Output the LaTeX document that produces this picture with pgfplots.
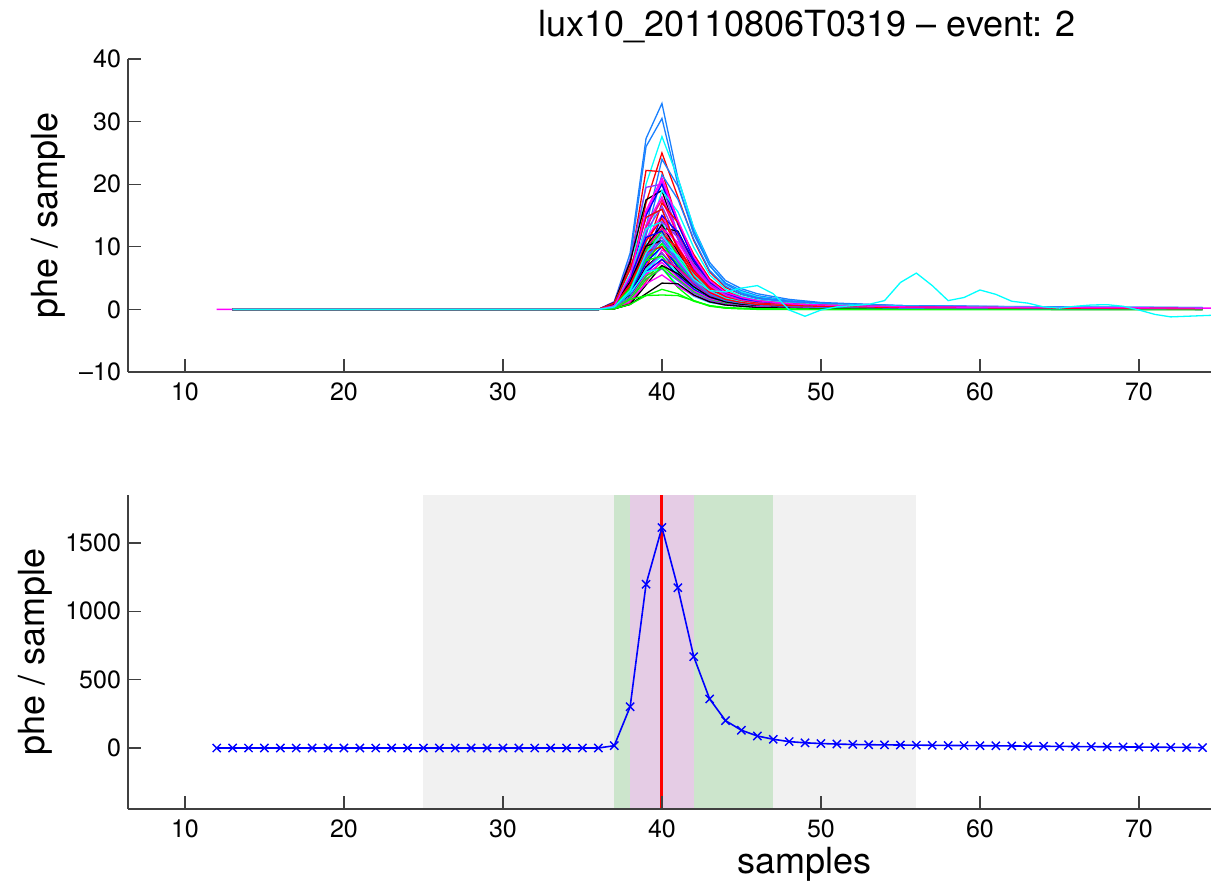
\documentclass[border=0pt]{standalone}
\usepackage{pgfplots}
\pgfplotsset{compat=1.18}
\usepackage{fontspec}
\setmainfont{TeX Gyre Heros}
\definecolor{DB}{rgb}{0.1,0.5,1}
\definecolor{VI}{rgb}{0.55,0.2,1}
\definecolor{PR}{rgb}{1,0,0.5}
\definecolor{LG}{rgb}{0,1,0}
\definecolor{CY}{rgb}{0,1,1}
\definecolor{MG}{rgb}{1,0,1}
\definecolor{RD}{rgb}{1,0,0}
\definecolor{BL}{rgb}{0,0,1}
\definecolor{GRR}{rgb}{0.945,0.945,0.945}
\definecolor{GNR}{rgb}{0.8,0.9,0.8}
\definecolor{PKR}{rgb}{0.9,0.8,0.9}
\definecolor{SP}{rgb}{0.25,0.25,0.25}
\pgfplotsset{
 mystyle/.style={
  scale only axis, width=541.5pt,
  xmin=6.42, xmax=74.53,
  axis x line*=bottom, axis y line*=left,
  tick align=inside,
  major tick length=6.5pt,
  tick style={SP, line width=0.6pt},
  axis line style={SP, line width=0.9pt},
  xtick={10,20,30,40,50,60,70}, xticklabels={10,20,30,40,50,60,70},
  tick label style={font=\fontsize{12.5}{12.5}\selectfont, black},
  xticklabel style={yshift=-2pt},
  label style={font=\fontsize{18}{18}\selectfont},
 }
}
\newcommand{\tr}[2]{\addplot[#1, line width=0.65pt] coordinates {#2};}
\begin{document}
\begin{tikzpicture}
\path[use as bounding box] (0,0) rectangle (605.5pt,443pt);
\clip (0,0) rectangle (605.5pt,443pt);
% ---------------- top panel ----------------
\begin{axis}[mystyle, at={(64pt,257pt)}, anchor=south west, height=156.5pt,
  ymin=-10, ymax=40, ytick={-10,0,10,20,30,40}, yticklabels={--10,0,10,20,30,40},
  ylabel={phe / sample},
  ylabel style={at={([xshift=-40pt]rel axis cs:0,0.5)}, anchor=center},
  title={lux10\_20110806T0319 \textendash{} event: 2},
  title style={at={(rel axis cs:0.627,1)}, anchor=base, yshift=5pt, font=\fontsize{18}{18}\selectfont},
  no markers]
\tr{MG}{(12,0)(36,0)(37,0.3)(38,3)(39,9)(40,12)(41,8)(42,4.6)(43,2.5)(44,1.5)(45,1)(46,0.7)(48,0.5)(50,0.4)(55,0.3)(65,0.2)(75,0.2)}
\tr{DB}{(13,0)(36,0)(37,1.2)(38,9)(39,27.3)(40,32.9)(41,21)(42,13)(43,7.5)(44,4.6)(45,3.3)(46,2.5)(48,1.6)(50,1.1)(55,0.6)(65,0.4)(74,0.3)}
\tr{DB}{(13,0)(36,0)(37,1.0)(38,8)(39,26)(40,30.5)(41,20)(42,12)(43,7)(44,4.2)(45,3.0)(46,2.2)(48,1.4)(50,1.0)(55,0.6)(65,0.35)(74,0.3)}
\tr{CY}{(13,0)(36,0)(37,0.6)(38,5)(39,20)(40,27.6)(41,21)(42,13)(43,7)(44,4)(45,2.8)(46,2.0)(48,1.3)(50,0.9)(55,0.5)(65,0.3)(74,0.2)}
\tr{RD}{(13,0)(36,0)(37,0.5)(38,5)(39,17)(40,25)(41,18)(42,11)(43,6)(44,3.5)(45,2.4)(46,1.8)(48,1.2)(50,0.8)(55,0.4)(65,0.2)(74,0.1)}
\tr{RD}{(13,0)(36,0)(37,0.8)(38,7)(39,22.2)(40,22)(41,14)(42,8)(43,4.5)(44,2.7)(45,1.9)(46,1.4)(48,1.0)(50,0.7)(55,0.4)(65,0.2)(74,0.1)}
\tr{DB}{(13,0)(36,0)(37,0.2)(38,2.9)(39,13.2)(40,24)(41,19.7)(42,12.5)(43,7.0)(44,4.1)(45,2.6)(46,1.9)(48,1.3)(50,1.0)(55,0.6)(65,0.3)(74,0.2)}
\tr{VI}{(13,0)(36,0)(37,1.2)(38,8.0)(39,19.5)(40,20)(41,12)(42,6.4)(43,3.4)(44,2.0)(45,1.4)(46,1.0)(48,0.7)(50,0.6)(55,0.4)(65,0.2)(74,0.1)}
\tr{DB}{(13,0)(36,0)(37,0.2)(38,2.6)(39,11.8)(40,21.5)(41,17.6)(42,11.2)(43,6.2)(44,3.7)(45,2.4)(46,1.7)(48,1.2)(50,0.9)(55,0.5)(65,0.3)(74,0.2)}
\tr{MG}{(13,0)(36,0)(37,0.6)(38,5.1)(39,15.4)(40,20.5)(41,13.9)(42,8.2)(43,4.5)(44,2.7)(45,1.8)(46,1.3)(48,0.9)(50,0.7)(55,0.4)(65,0.2)(74,0.2)}
\tr{black}{(13,0)(36,0)(37,1.1)(38,7.6)(39,17.5)(40,19)(41,11.4)(42,6.1)(43,3.2)(44,1.9)(45,1.3)(46,1.0)(48,0.7)(50,0.6)(55,0.3)(65,0.2)(74,0.1)}
\tr{BL}{(13,0)(36,0)(37,0.6)(38,5.0)(39,15.0)(40,20)(41,13.6)(42,8.0)(43,4.4)(44,2.6)(45,1.8)(46,1.3)(48,0.9)(50,0.7)(55,0.4)(65,0.2)(74,0.2)}
\tr{CY}{(13,0)(36,0)(37,0.2)(38,2.3)(39,10.5)(40,19)(41,15.6)(42,9.9)(43,5.5)(44,3.2)(45,2.1)(46,1.5)(48,1.0)(50,0.8)(55,0.5)(65,0.3)(74,0.2)}
\tr{MG}{(13,0)(36,0)(37,0.5)(38,4.5)(39,13.5)(40,18)(41,12.2)(42,7.2)(43,4.0)(44,2.3)(45,1.6)(46,1.2)(48,0.8)(50,0.6)(55,0.4)(65,0.2)(74,0.1)}
\tr{PR}{(13,0)(36,0)(37,0.5)(38,4.4)(39,13.1)(40,17.5)(41,11.9)(42,7.0)(43,3.9)(44,2.3)(45,1.6)(46,1.1)(48,0.8)(50,0.6)(55,0.4)(65,0.2)(74,0.1)}
\tr{RD}{(13,0)(36,0)(37,0.2)(38,2.0)(39,9.4)(40,17)(41,13.9)(42,8.8)(43,4.9)(44,2.9)(45,1.9)(46,1.4)(48,0.9)(50,0.7)(55,0.4)(65,0.2)(74,0.1)}
\tr{VI}{(13,0)(36,0)(37,0.5)(38,4.1)(39,12.4)(40,16.5)(41,11.2)(42,6.6)(43,3.6)(44,2.1)(45,1.5)(46,1.1)(48,0.7)(50,0.6)(55,0.3)(65,0.2)(74,0.1)}
\tr{DB}{(13,0)(36,0)(37,1.0)(38,6.4)(39,14.7)(40,16)(41,9.6)(42,5.1)(43,2.7)(44,1.6)(45,1.1)(46,0.8)(48,0.6)(50,0.5)(55,0.3)(65,0.2)(74,0.1)}
\tr{black}{(13,0)(36,0)(37,0.1)(38,1.6)(39,7.2)(40,13)(41,12.5)(42,7.5)(43,4.2)(44,2.4)(45,1.6)(46,1.1)(48,0.8)(50,0.6)(55,0.3)(65,0.2)(74,0.1)}
\tr{MG}{(13,0)(36,0)(37,0.5)(38,3.8)(39,11.3)(40,15)(41,10.2)(42,6.0)(43,3.3)(44,2.0)(45,1.4)(46,1.0)(48,0.7)(50,0.5)(55,0.3)(65,0.2)(74,0.1)}
\tr{BL}{(13,0)(36,0)(37,0.2)(38,1.8)(39,8.3)(40,15)(41,12.3)(42,7.8)(43,4.4)(44,2.6)(45,1.7)(46,1.2)(48,0.8)(50,0.6)(55,0.4)(65,0.2)(74,0.1)}
\tr{RD}{(13,0)(36,0)(37,0.4)(38,3.6)(39,10.9)(40,14.5)(41,9.9)(42,5.8)(43,3.2)(44,1.9)(45,1.3)(46,0.9)(48,0.7)(50,0.5)(55,0.3)(65,0.2)(74,0.1)}
\tr{CY}{(13,0)(36,0)(37,0.8)(38,5.6)(39,12.9)(40,14)(41,8.4)(42,4.5)(43,2.4)(44,1.4)(45,1.0)(46,0.7)(48,0.5)(50,0.4)(55,0.3)(65,0.1)(74,0.1)}
\tr{VI}{(13,0)(36,0)(37,0.1)(38,1.7)(39,7.7)(40,14)(41,11.5)(42,7.3)(43,4.1)(44,2.4)(45,1.5)(46,1.1)(48,0.8)(50,0.6)(55,0.3)(65,0.2)(74,0.1)}
\tr{black}{(13,0)(36,0)(37,0.4)(38,3.4)(39,10.1)(40,13.5)(41,9.2)(42,5.4)(43,3.0)(44,1.8)(45,1.2)(46,0.9)(48,0.6)(50,0.5)(55,0.3)(65,0.2)(74,0.1)}
\tr{MG}{(13,0)(36,0)(37,0.1)(38,1.6)(39,7.2)(40,13)(41,10.7)(42,6.8)(43,3.8)(44,2.2)(45,1.4)(46,1.0)(48,0.7)(50,0.5)(55,0.3)(65,0.2)(74,0.1)}
\tr{PR}{(13,0)(36,0)(37,0.4)(38,3.3)(39,9.8)(40,13)(41,8.8)(42,5.2)(43,2.9)(44,1.7)(45,1.2)(46,0.8)(48,0.6)(50,0.5)(55,0.3)(65,0.2)(74,0.1)}
\tr{LG}{(13,0)(36,0)(37,0.4)(38,3.1)(39,9.4)(40,12.5)(41,8.5)(42,5.0)(43,2.8)(44,1.6)(45,1.1)(46,0.8)(48,0.6)(50,0.4)(55,0.3)(65,0.2)(74,0.1)}
\tr{BL}{(13,0)(36,0)(37,0.8)(38,5.0)(39,11.5)(40,12.5)(41,7.5)(42,4.0)(43,2.1)(44,1.3)(45,0.9)(46,0.6)(48,0.4)(50,0.4)(55,0.2)(65,0.1)(74,0.1)}
\tr{RD}{(13,0)(36,0)(37,0.1)(38,1.4)(39,6.6)(40,12)(41,9.8)(42,6.2)(43,3.5)(44,2.0)(45,1.3)(46,1.0)(48,0.7)(50,0.5)(55,0.3)(65,0.2)(74,0.1)}
\tr{VI}{(13,0)(36,0)(37,0.3)(38,2.9)(39,8.6)(40,11.5)(41,7.8)(42,4.6)(43,2.5)(44,1.5)(45,1.0)(46,0.7)(48,0.5)(50,0.4)(55,0.2)(65,0.1)(74,0.1)}
\tr{black}{(13,0)(36,0)(37,0.7)(38,4.4)(39,10.1)(40,11)(41,6.6)(42,3.5)(43,1.9)(44,1.1)(45,0.8)(46,0.6)(48,0.4)(50,0.3)(55,0.2)(65,0.1)(74,0.1)}
\tr{MG}{(13,0)(36,0)(37,0.3)(38,2.8)(39,8.3)(40,11)(41,7.5)(42,4.4)(43,2.4)(44,1.4)(45,1.0)(46,0.7)(48,0.5)(50,0.4)(55,0.2)(65,0.1)(74,0.1)}
\tr{CY}{(13,0)(36,0)(37,0.1)(38,1.3)(39,5.8)(40,10.5)(41,8.6)(42,5.5)(43,3.0)(44,1.8)(45,1.2)(46,0.8)(48,0.6)(50,0.4)(55,0.3)(65,0.1)(74,0.1)}
\tr{LG}{(13,0)(36,0)(37,0.3)(38,2.6)(39,7.9)(40,10.5)(41,7.1)(42,4.2)(43,2.3)(44,1.4)(45,0.9)(46,0.7)(48,0.5)(50,0.4)(55,0.2)(65,0.1)(74,0.1)}
\tr{BL}{(13,0)(36,0)(37,0.3)(38,2.5)(39,7.5)(40,10)(41,6.8)(42,4.0)(43,2.2)(44,1.3)(45,0.9)(46,0.7)(48,0.5)(50,0.4)(55,0.2)(65,0.1)(74,0.1)}
\tr{RD}{(13,0)(36,0)(37,0.6)(38,4.0)(39,9.2)(40,10)(41,6.0)(42,3.2)(43,1.7)(44,1.0)(45,0.7)(46,0.5)(48,0.4)(50,0.3)(55,0.2)(65,0.1)(74,0.1)}
\tr{MG}{(13,0)(36,0)(37,0.1)(38,1.1)(39,5.2)(40,9.5)(41,7.8)(42,4.9)(43,2.8)(44,1.6)(45,1.0)(46,0.8)(48,0.5)(50,0.4)(55,0.2)(65,0.1)(74,0.1)}
\tr{black}{(13,0)(36,0)(37,0.3)(38,2.3)(39,6.8)(40,9)(41,6.1)(42,3.6)(43,2.0)(44,1.2)(45,0.8)(46,0.6)(48,0.4)(50,0.3)(55,0.2)(65,0.1)(74,0.1)}
\tr{VI}{(13,0)(36,0)(37,0.2)(38,2.0)(39,6.5)(40,9)(41,6.4)(42,3.8)(43,2.1)(44,1.2)(45,0.8)(46,0.6)(48,0.4)(50,0.3)(55,0.2)(65,0.1)(74,0.1)}
\tr{CY}{(13,0)(36,0)(37,0.3)(38,2.1)(39,6.4)(40,8.5)(41,5.8)(42,3.4)(43,1.9)(44,1.1)(45,0.8)(46,0.6)(48,0.4)(50,0.3)(55,0.2)(65,0.1)(74,0.1)}
\tr{LG}{(13,0)(36,0)(37,0.5)(38,3.4)(39,7.8)(40,8.5)(41,5.1)(42,2.7)(43,1.4)(44,0.9)(45,0.6)(46,0.4)(48,0.3)(50,0.3)(55,0.2)(65,0.1)(74,0.1)}
\tr{PR}{(13,0)(36,0)(37,0.1)(38,1.0)(39,4.4)(40,8)(41,6.6)(42,4.2)(43,2.3)(44,1.4)(45,0.9)(46,0.6)(48,0.4)(50,0.3)(55,0.2)(65,0.1)(74,0.1)}
\tr{BL}{(13,0)(36,0)(37,0.2)(38,2.0)(39,6.0)(40,8)(41,5.4)(42,3.2)(43,1.8)(44,1.0)(45,0.7)(46,0.5)(48,0.4)(50,0.3)(55,0.2)(65,0.1)(74,0.1)}
\tr{MG}{(13,0)(36,0)(37,0.2)(38,1.9)(39,5.6)(40,7.5)(41,5.1)(42,3.0)(43,1.7)(44,1.0)(45,0.7)(46,0.5)(48,0.3)(50,0.3)(55,0.2)(65,0.1)(74,0.1)}
\tr{LG}{(13,0)(36,0)(37,0.2)(38,1.8)(39,5.3)(40,7)(41,4.8)(42,2.8)(43,1.5)(44,0.9)(45,0.6)(46,0.5)(48,0.3)(50,0.2)(55,0.1)(65,0.1)(74,0)}
\tr{black}{(13,0)(36,0)(37,0.1)(38,0.8)(39,3.9)(40,7)(41,5.7)(42,3.6)(43,2.0)(44,1.2)(45,0.8)(46,0.6)(48,0.4)(50,0.3)(55,0.2)(65,0.1)(74,0.1)}
\tr{CY}{(13,0)(36,0)(37,0.4)(38,2.6)(39,6.0)(40,6.5)(41,3.9)(42,2.1)(43,1.1)(44,0.7)(45,0.5)(46,0.3)(48,0.2)(50,0.2)(55,0.1)(65,0.1)(74,0)}
\tr{VI}{(13,0)(36,0)(37,0.2)(38,1.6)(39,4.9)(40,6.5)(41,4.6)(42,2.6)(43,1.4)(44,0.8)(45,0.6)(46,0.4)(48,0.3)(50,0.2)(55,0.1)(65,0.1)(74,0)}
\tr{LG}{(13,0)(36,0)(37,0.1)(38,1.5)(39,4.8)(40,6.7)(41,3.5)(42,1.4)(43,0.5)(44,0.2)(45,0.1)(46,0.1)(48,0)(50,0)(55,0)(65,0)(74,0)}
\tr{MG}{(13,0)(36,0)(37,0.2)(38,1.4)(39,4.1)(40,5.5)(41,3.7)(42,2.2)(43,1.2)(44,0.7)(45,0.5)(46,0.4)(48,0.2)(50,0.2)(55,0.1)(65,0.1)(74,0)}
\tr{black}{(13,0)(36,0)(37,0.1)(38,0.8)(39,2.5)(40,4.2)(41,4.1)(42,2.3)(43,1.2)(44,0.7)(45,0.5)(46,0.3)(48,0.2)(50,0.1)(55,0.1)(65,0)(74,0)}
\tr{LG}{(13,0)(36,0)(37,0.1)(38,0.8)(39,2.2)(40,3.2)(41,2.5)(42,1.3)(43,0.6)(44,0.3)(45,0.2)(46,0.1)(48,0.1)(50,0)(55,0)(65,0)(74,0)}
\tr{LG}{(13,0)(36,0)(37,0.1)(38,1.6)(39,2.2)(40,2.3)(41,2.2)(42,1.4)(43,0.6)(44,0.2)(45,0.1)(46,0)(48,0)(50,0)(55,0)(65,0)(74,0)}
\tr{DB}{(13,0)(36,0)(37,0.3)(38,2.8)(39,8.3)(40,11)(41,7.5)(42,4.4)(43,2.4)(44,1.4)(45,1.0)(46,0.7)(48,0.5)(50,0.4)(55,0.2)(65,0.1)(74,0.1)}
\tr{RD}{(13,0)(36,0)(37,1.0)(38,6.4)(39,14.7)(40,16)(41,9.6)(42,5.1)(43,2.7)(44,1.6)(45,1.1)(46,0.8)(48,0.6)(50,0.5)(55,0.3)(65,0.2)(74,0.1)}
\tr{MG}{(13,0)(36,0)(37,0.6)(38,5.3)(39,15.8)(40,21)(41,14.3)(42,8.4)(43,4.6)(44,2.7)(45,1.9)(46,1.4)(48,0.9)(50,0.7)(55,0.4)(65,0.3)(74,0.2)}
\tr{CY}{(13,0)(36,0)(37,0.4)(38,3.0)(39,9.0)(40,12)(41,8.2)(42,4.8)(43,3.0)(44,2.8)(45,3.4)(46,3.8)(47,2.5)(48,-0.1)(49,-1.1)(50,-0.1)(51,0.4)(52,0.6)(53,0.8)(54,1.4)(55,4.3)(56,5.8)(57,3.8)(58,1.4)(59,1.9)(60,3.1)(61,2.4)(62,1.3)(63,1.0)(64,0.4)(65,0.2)(66,0.5)(67,0.7)(68,0.75)(69,0.5)(70,-0.1)(71,-0.8)(72,-1.2)(73,-1.1)(75,-0.9)}
\end{axis}
% ---------------- bottom panel ----------------
\begin{axis}[mystyle, at={(64pt,38.5pt)}, anchor=south west, height=157pt,
  ymin=-446, ymax=1851, ytick={0,500,1000,1500}, yticklabels={0,500,1000,1500},
  ylabel={phe / sample},
  ylabel style={at={([xshift=-46.5pt]rel axis cs:0,0.5)}, anchor=center},
  xlabel={samples},
  xlabel style={at={(rel axis cs:0.625,0)}, anchor=base, yshift=-32.5pt},
  axis on top]
\addplot[draw=none, fill=GRR] coordinates {(25,-446) (25,1851) (56,1851) (56,-446)} -- cycle;
\addplot[draw=none, fill=GNR] coordinates {(37,-446) (37,1851) (47,1851) (47,-446)} -- cycle;
\addplot[draw=none, fill=PKR] coordinates {(38,-446) (38,1851) (42,1851) (42,-446)} -- cycle;
\addplot[RD, line width=1.5pt] coordinates {(40,-446) (40,1851)};
\addplot[BL, line width=0.8pt, mark=x, mark size=2.9pt, mark options={line width=0.7pt}] coordinates {
(12,0)(13,0)(14,0)(15,0)(16,0)(17,0)(18,0)(19,0)(20,0)(21,0)(22,0)(23,0)(24,0)(25,0)(26,0)(27,0)(28,0)(29,0)(30,0)(31,0)(32,0)(33,0)(34,0)(35,0)(36,0)
(37,17)(38,302)(39,1198)(40,1613)(41,1173)(42,668)(43,359)(44,200)(45,130)(46,88)(47,64)(48,47)(49,38)(50,33)
(51,29)(52,26)(53,24)(54,23)(55,22)(56,21)(57,20)(58,19)(59,18)(60,17)(61,16)(62,15)(63,14)(64,13)(65,12)(66,11)(67,10)(68,9)(69,8)(70,7)(71,6)(72,5)(73,4)(74,3)};
\end{axis}
\end{tikzpicture}
\end{document}
